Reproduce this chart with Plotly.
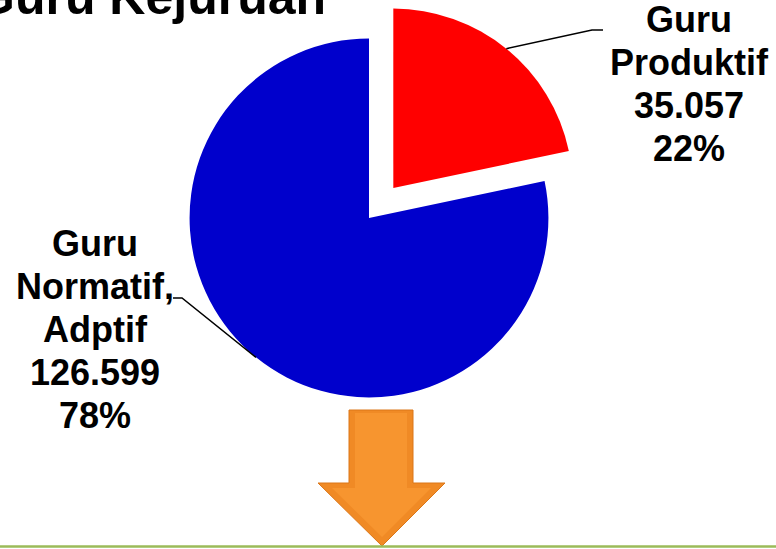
import numpy as np
import plotly.graph_objects as go

# data
labels = ['Guru<br>Produktif', 'Guru<br>Normatif,<br>Adptif']
values = [35057, 126599]
value_text = ['35.057', '126.599']
colors = ['#FF0000', '#0000CC']
pulls = [0.215, 0]

W, H = 776, 549

# pie box in pixels (left, top, width, height)
box_l, box_t, box_w, box_h = 149, 0, 440, 436
cx = box_l + box_w / 2
cy = box_t + box_h / 2
r = min(box_w, box_h) / (2 + 2 * max(pulls))


def px(x, y):
    return x / W, 1 - y / H


total = sum(values)
pct = [round(v / total * 100) for v in values]

# mid angle of each slice (clockwise from 12 o'clock) and a point on its arc
start = 0
arc_pts = []
for v, p in zip(values, pulls):
    a = 2 * np.pi * v / total
    mid = start + a / 2
    ox = cx + p * r * np.sin(mid)
    oy = cy - p * r * np.cos(mid)
    arc_pts.append((ox + r * np.sin(mid), oy - r * np.cos(mid)))
    start += a

fig = go.Figure()
fig.add_trace(go.Pie(
    values=values,
    sort=False,
    direction='clockwise',
    rotation=0,
    pull=pulls,
    marker=dict(colors=colors, line=dict(width=0)),
    textinfo='none',
    hoverinfo='skip',
    showlegend=False,
    domain=dict(x=[box_l / W, (box_l + box_w) / W],
                y=[1 - (box_t + box_h) / H, 1 - box_t / H]),
))

# label blocks: (center x, first baseline, elbow, end of leader)
label_pos = [(689, 31, (592, 30), (603, 30)),
             (95, 255, (182, 298), (173, 298))]
fsize = 36
pitch = 43

shapes = []
annotations = []
for i in range(len(values)):
    lx, base, elbow, end = label_pos[i]
    lines = labels[i].split('<br>') + [value_text[i], str(pct[i]) + '%']
    for k, line in enumerate(lines):
        x, y = px(lx, base + k * pitch - 0.32 * fsize)
        annotations.append(dict(x=x, y=y, xref='paper', yref='paper',
                                text='<b>' + line + '</b>',
                                showarrow=False, xanchor='center', yanchor='middle',
                                font=dict(family='Liberation Sans, Arial', size=fsize,
                                          color='black')))
    p0 = px(*arc_pts[i])
    p1 = px(*elbow)
    p2 = px(*end)
    shapes.append(dict(type='path', xref='paper', yref='paper',
                       path=f'M {p0[0]} {p0[1]} L {p1[0]} {p1[1]} L {p2[0]} {p2[1]}',
                       line=dict(color='black', width=1.5)))

# slide title (cut off at top of the picture)
tx, ty = px(328, 13 - 0.32 * 50)
annotations.append(dict(x=tx, y=ty, xref='paper', yref='paper',
                        text='<b>Guru Kejuruan</b>', showarrow=False,
                        xanchor='right', yanchor='middle',
                        font=dict(family='Liberation Sans, Arial', size=50, color='black')))

# orange arrow
arrow = [(349, 410), (413, 410), (413, 483), (445, 483), (382, 546),
         (318, 483), (349, 483)]
path = 'M ' + ' L '.join(f'{px(a, b)[0]} {px(a, b)[1]}' for a, b in arrow) + ' Z'
shapes.append(dict(type='path', xref='paper', yref='paper', path=path,
                   fillcolor='#F08A25', line=dict(color='#DB7719', width=1)))
inner = [(355, 413), (407, 413), (407, 488), (431, 488), (382, 537),
         (332, 488), (355, 488)]
path = 'M ' + ' L '.join(f'{px(a, b)[0]} {px(a, b)[1]}' for a, b in inner) + ' Z'
shapes.append(dict(type='path', xref='paper', yref='paper', path=path,
                   fillcolor='#F7952F', line=dict(width=0)))

# green rule at the bottom
g0, g1 = px(0, 546.5), px(W, 546.5)
shapes.append(dict(type='line', xref='paper', yref='paper', x0=g0[0], y0=g0[1],
                   x1=g1[0], y1=g1[1], line=dict(color='#9BBB59', width=2.5)))

fig.update_layout(width=W, height=H, margin=dict(l=0, r=0, t=0, b=0),
                  paper_bgcolor='white', plot_bgcolor='white',
                  shapes=shapes, annotations=annotations)

fig.write_html("out.html", config={'displayModeBar': False},
               post_script="document.body.style.margin='0px';")
